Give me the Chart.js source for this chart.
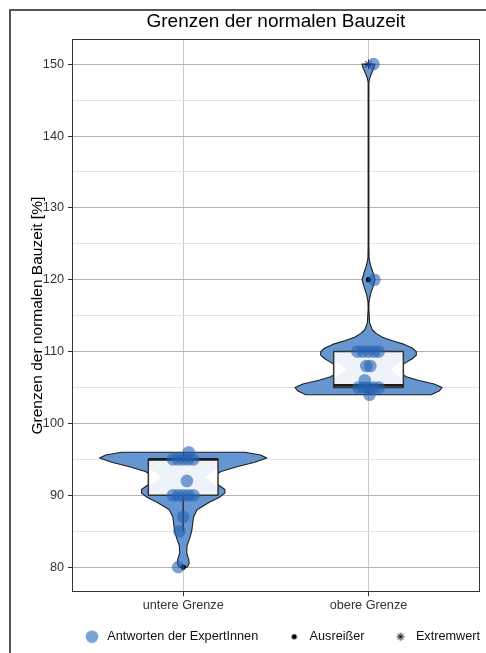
<!DOCTYPE html>
<html><head><meta charset="utf-8">
<script src="https://cdn.jsdelivr.net/npm/chart.js@4.4.1/dist/chart.umd.min.js"></script>
<style>
html,body{margin:0;padding:0;background:#fff;width:486px;height:653px;overflow:hidden;}
#frame{position:absolute;left:9px;top:9px;width:600px;height:700px;border:2px solid #555;box-sizing:border-box;}
#c{position:absolute;left:0;top:0;}
</style></head><body>
<div id="frame"></div>
<canvas id="c" width="486" height="653"></canvas>
<script>
// ---------- data ----------
const categories = ['untere Grenze', 'obere Grenze'];
const yTickLabels = [80, 90, 100, 110, 120, 130, 140, 150];
const yMinorTicks = [85, 95, 105, 115, 125, 135, 145];

// answers of the experts (jitter = horizontal jitter in category units)
const untereWerte  = [96, 95, 95, 95, 95, 95, 92, 90, 90, 90, 90, 90, 87, 85, 80];
const untereJitter = [0.03, -0.055, -0.027, 0, 0.027, 0.055, 0.02, -0.055, -0.027, 0, 0.027, 0.055, 0, -0.02, -0.027];
const obereWerte   = [150, 120, 110, 110, 110, 110, 110, 108, 108, 106, 105, 105, 105, 105, 105, 104];
const obereJitter  = [0.027, 0.032, -0.06, -0.03, 0, 0.03, 0.055, -0.012, 0.01, -0.02, -0.055, -0.027, 0, 0.027, 0.055, 0.005];

// box statistics
const boxQ1      = [90, 105];
const boxMedian  = [95, 105.3];
const boxQ3      = [95, 110];
const whiskerLow = [85, 104];
const whiskerHigh= [96, 110];

// outliers / extreme values
const ausreisserKat   = [1, 2];
const ausreisserWerte = [80, 120];
const extremKat   = [2];
const extremWerte = [150];

// violin densities (half width in category units)
const violinUntereY = [80, 80.5, 81, 82, 83, 84, 85, 86, 87, 88, 89, 89.7, 90.3, 90.8, 91.3, 92, 92.7, 93.3, 94, 94.6, 95.2, 95.6, 96];
const violinUntereW = [0.021, 0.032, 0.030, 0.019, 0.021, 0.035, 0.046, 0.051, 0.056, 0.075, 0.139, 0.193, 0.225, 0.225, 0.198, 0.161, 0.166, 0.204, 0.295, 0.386, 0.451, 0.418, 0.333];
const violinObereY = [104, 104.5, 105, 105.5, 106, 106.5, 107, 107.5, 108, 108.5, 109, 109.5, 110, 110.5, 111, 111.5, 112, 112.5, 113, 114, 116, 117, 118, 119, 120, 121, 122, 123, 125, 147.5, 148, 148.5, 149, 149.5, 150];
const violinObereW = [0.338, 0.381, 0.397, 0.354, 0.268, 0.204, 0.172, 0.161, 0.172, 0.204, 0.236, 0.258, 0.258, 0.236, 0.193, 0.129, 0.075, 0.043, 0.021, 0.006, 0.002, 0.003, 0.011, 0.024, 0.035, 0.024, 0.011, 0.003, 0.002, 0.002, 0.006, 0.013, 0.021, 0.030, 0.035];

// ---------- styling ----------
const FONT = '"Liberation Sans", Arial, Helvetica, sans-serif';
const POINT_COLOR = 'rgba(37,99,180,0.6)';
const VIOLIN_FILL = '#6596d1';
const BOX_HALF = 0.188;
const LEGEND_SHIFT = 32;

const violins = [
  {y: violinUntereY, w: violinUntereW},
  {y: violinObereY, w: violinObereW}
];

function makeIcon(draw) {
  const cv = document.createElement('canvas');
  cv.width = 35; cv.height = 14;
  const c = cv.getContext('2d');
  draw(c, 26, 7);
  return cv;
}
const legendIcons = [
  makeIcon((c, x, y) => { c.fillStyle = POINT_COLOR; c.beginPath(); c.arc(x, y, 6.3, 0, Math.PI * 2); c.fill(); }),
  makeIcon((c, x, y) => { c.fillStyle = '#000'; c.beginPath(); c.arc(x, y, 2.6, 0, Math.PI * 2); c.fill(); }),
  makeIcon((c, x, y) => {
    c.strokeStyle = '#000'; c.lineWidth = 1; c.beginPath();
    for (let k = 0; k < 4; k++) { const a = k * Math.PI / 4; c.moveTo(x - 4 * Math.cos(a), y - 4 * Math.sin(a)); c.lineTo(x + 4 * Math.cos(a), y + 4 * Math.sin(a)); }
    c.stroke();
  })
];

const violinPlugin = {
  id: 'violinBox',
  afterLayout(chart) {
    const lg = chart.legend;
    if (lg) { lg.left += LEGEND_SHIFT; lg.right += LEGEND_SHIFT; }
  },
  beforeDatasetsDraw(chart) {
    const {ctx, chartArea} = chart;
    const xs = chart.scales.x, ys = chart.scales.y;
    const X = v => xs.getPixelForValue(v), Y = v => ys.getPixelForValue(v);
    ctx.save();
    ctx.beginPath(); ctx.rect(chartArea.left, chartArea.top, chartArea.width, chartArea.height); ctx.clip();
    violins.forEach((v, i) => {
      const c = i + 1;
      ctx.beginPath();
      v.y.forEach((val, k) => { const px = X(c - v.w[k]), py = Y(val); if (k) ctx.lineTo(px, py); else ctx.moveTo(px, py); });
      for (let k = v.y.length - 1; k >= 0; k--) ctx.lineTo(X(c + v.w[k]), Y(v.y[k]));
      ctx.closePath();
      ctx.fillStyle = VIOLIN_FILL; ctx.fill();
      ctx.lineWidth = 1.1; ctx.strokeStyle = '#1e1e1e'; ctx.lineJoin = 'round'; ctx.stroke();
    });
    categories.forEach((_, i) => {
      const c = i + 1;
      const x0 = X(c - BOX_HALF), x1 = X(c + BOX_HALF), xc = X(c);
      const yq1 = Y(boxQ1[i]), yq3 = Y(boxQ3[i]);
      // whiskers
      ctx.strokeStyle = '#333'; ctx.lineWidth = 1.5;
      ctx.beginPath();
      ctx.moveTo(xc, yq1); ctx.lineTo(xc, Y(whiskerLow[i]));
      ctx.moveTo(xc, yq3); ctx.lineTo(xc, Y(whiskerHigh[i]));
      ctx.stroke();
      // box
      ctx.fillStyle = '#eef3f9';
      ctx.fillRect(x0, yq3, x1 - x0, yq1 - yq3);
      // notch marks
      const mid = (boxQ1[i] + boxQ3[i]) / 2, hh = (boxQ3[i] - boxQ1[i]) * 0.28;
      const d = X(c - BOX_HALF + 0.068) - x0;
      ctx.fillStyle = '#ffffff';
      ctx.beginPath();
      ctx.moveTo(x0, Y(mid + hh)); ctx.quadraticCurveTo(x0 + d * 0.5, Y(mid + hh * 0.5), x0 + d, Y(mid));
      ctx.quadraticCurveTo(x0 + d * 0.5, Y(mid - hh * 0.5), x0, Y(mid - hh)); ctx.closePath(); ctx.fill();
      ctx.beginPath();
      ctx.moveTo(x1, Y(mid + hh)); ctx.quadraticCurveTo(x1 - d * 0.5, Y(mid + hh * 0.5), x1 - d, Y(mid));
      ctx.quadraticCurveTo(x1 - d * 0.5, Y(mid - hh * 0.5), x1, Y(mid - hh)); ctx.closePath(); ctx.fill();
      ctx.strokeStyle = '#333'; ctx.lineWidth = 1.5;
      ctx.strokeRect(x0, yq3, x1 - x0, yq1 - yq3);
      // median
      ctx.strokeStyle = '#1a1a1a'; ctx.lineWidth = 2.6;
      ctx.beginPath(); ctx.moveTo(x0, Y(boxMedian[i])); ctx.lineTo(x1, Y(boxMedian[i])); ctx.stroke();
    });
    ctx.restore();
  },
  afterDraw(chart) {
    const {ctx, chartArea: a} = chart;
    ctx.save();
    ctx.strokeStyle = '#333'; ctx.lineWidth = 1;
    ctx.strokeRect(Math.round(a.left) + 0.5, Math.round(a.top) + 0.5, Math.round(a.right - a.left) - 1, Math.round(a.bottom - a.top) - 1);
    ctx.restore();
  }
};

const allYTicks = yTickLabels.concat(yMinorTicks).sort((p, q) => p - q);

new Chart(document.getElementById('c'), {
  type: 'scatter',
  data: {
    datasets: [
      {
        label: 'Antworten der ExpertInnen',
        data: untereWerte.map((v, k) => ({x: 1 + untereJitter[k], y: v}))
          .concat(obereWerte.map((v, k) => ({x: 2 + obereJitter[k], y: v}))),
        backgroundColor: POINT_COLOR, borderWidth: 0, pointRadius: 6.3, pointHoverRadius: 6.3
      },
      {
        label: 'Ausreißer',
        data: ausreisserWerte.map((v, k) => ({x: ausreisserKat[k], y: v})),
        backgroundColor: '#000', borderWidth: 0, pointRadius: 2.6
      },
      {
        label: 'Extremwert',
        data: extremWerte.map((v, k) => ({x: extremKat[k], y: v})),
        pointStyle: 'star', borderColor: '#000', backgroundColor: '#000', borderWidth: 1, pointRadius: 4.5
      }
    ]
  },
  options: {
    responsive: false, animation: false,
    layout: {padding: {left: 0, right: 4, top: 0, bottom: 0}},
    plugins: {
      tooltip: {enabled: false},
      title: {
        display: true, text: 'Grenzen der normalen Bauzeit', fullSize: false,
        color: '#000', font: {family: FONT, size: 19, weight: 'normal', lineHeight: 1.2},
        padding: {top: 10, bottom: 6.2}
      },
      legend: {
        display: true, position: 'bottom', fullSize: true,
        labels: {
          usePointStyle: true, pointStyleWidth: 35, boxHeight: 12.7, padding: 10,
          color: '#111', font: {family: FONT, size: 12.7},
          generateLabels: (chart) => chart.data.datasets.map((ds, i) => ({
            text: ds.label, pointStyle: legendIcons[i], fillStyle: 'rgba(0,0,0,0)',
            strokeStyle: 'rgba(0,0,0,0)', lineWidth: 0, hidden: false, datasetIndex: i, fontColor: '#111'
          }))
        }
      }
    },
    scales: {
      x: {
        type: 'linear', min: 0.4, max: 2.6,
        afterBuildTicks: (s) => { s.ticks = categories.map((_, i) => ({value: i + 1})); },
        afterFit: (s) => { s.height = 28; },
        ticks: {
          autoSkip: false, padding: 2, color: '#333', font: {family: FONT, size: 12.7},
          callback: (v) => categories[Math.round(v) - 1]
        },
        grid: {color: '#cccccc', lineWidth: 1, tickLength: 4, tickColor: '#333', drawTicks: true},
        border: {display: false}
      },
      y: {
        type: 'linear', min: 76.5, max: 153.5,
        afterBuildTicks: (s) => { s.ticks = allYTicks.map(v => ({value: v})); },
        afterFit: (s) => { s.width = 72; },
        ticks: {
          autoSkip: false, padding: 4, color: '#333', font: {family: FONT, size: 12.7},
          callback: (v) => (yTickLabels.includes(v) ? String(v) : '')
        },
        grid: {
          lineWidth: 1, tickLength: 4, drawTicks: true,
          color: (c) => (c.tick && yTickLabels.includes(c.tick.value) ? '#b3b3b3' : '#e4e4e4'),
          tickColor: (c) => (c.tick && yTickLabels.includes(c.tick.value) ? '#333' : 'rgba(0,0,0,0)')
        },
        border: {display: false},
        title: {
          display: true, text: 'Grenzen der normalen Bauzeit [%]', color: '#000',
          font: {family: FONT, size: 15.5, weight: 'normal', lineHeight: 1.2},
          padding: {top: 28.7, bottom: 0}
        }
      }
    }
  },
  plugins: [violinPlugin]
});
</script>
</body></html>
